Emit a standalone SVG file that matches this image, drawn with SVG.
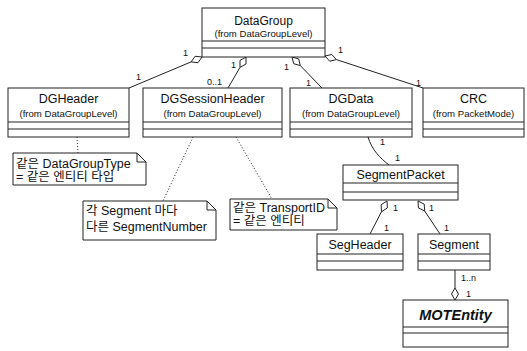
<svg xmlns="http://www.w3.org/2000/svg" width="527" height="351" viewBox="0 0 527 351">
<style>
text{font-family:"Liberation Sans","Noto Sans CJK KR",sans-serif;fill:#111}
.box{fill:#fff;stroke:#222;stroke-width:1}
.sep{stroke:#222;stroke-width:1}
.nm{font-size:12.5px;text-anchor:middle}
.fr{font-size:9.6px;text-anchor:middle}
.nt{font-size:12.5px}
.lb{font-size:9px}
.ln{fill:none;stroke:#222;stroke-width:1}
.dot{fill:none;stroke:#222;stroke-width:1;stroke-dasharray:1,2}
.dia{fill:#fff;stroke:#222;stroke-width:1}
.note{fill:#fff;stroke:#222;stroke-width:1}
</style>
<rect width="527" height="351" fill="#fff"/>

<g id="connectors">
  <polyline class="ln" points="129,88 191.1,61.9"/>
  <polygon class="dia" points="202,57 195.1,56.3 191.1,61.9 198,62.7"/>
  <polyline class="ln" points="228,88 240,67.4"/>
  <polygon class="dia" points="246,57 240,60.4 240,67.4 246,64"/>
  <polyline class="ln" points="322,88 300.3,65.6"/>
  <polygon class="dia" points="292,57 293.7,63.7 300.3,65.6 298.7,58.9"/>
  <polyline class="ln" points="423,88 336.4,59.6"/>
  <polygon class="dia" points="325,56 329.7,61.2 336.4,59.6 331.8,54.5"/>
  <path class="ln" d="M368,137 C372,150 380,158 389,165"/>
  <polyline class="ln" points="370,234 381.5,211.7"/>
  <polygon class="dia" points="387,201 381.1,204.7 381.5,211.7 387.4,207.9"/>
  <polyline class="ln" points="440,234 424.7,211"/>
  <polygon class="dia" points="418,201 418.4,207.9 424.7,211 424.2,204.1"/>
  <polyline class="ln" points="455,270 455,288"/>
  <polygon class="dia" points="455,300 451.5,294 455,288 458.5,294"/>
  <polyline class="dot" points="77,137 78,153"/>
  <polyline class="dot" points="193,137 163,201"/>
  <polyline class="dot" points="236,137 272,199"/>
  <text class="lb" x="183" y="56">1</text>
  <text class="lb" x="136" y="80">1</text>
  <text class="lb" x="231" y="68">1</text>
  <text class="lb" x="207" y="85">0..1</text>
  <text class="lb" x="284" y="70">1</text>
  <text class="lb" x="306" y="86">1</text>
  <text class="lb" x="338" y="53">1</text>
  <text class="lb" x="416" y="86">1</text>
  <text class="lb" x="380" y="145">1</text>
  <text class="lb" x="395" y="161">1</text>
  <text class="lb" x="393" y="211">1</text>
  <text class="lb" x="384" y="231">1</text>
  <text class="lb" x="429" y="211">1</text>
  <text class="lb" x="444" y="231">1</text>
  <text class="lb" x="461" y="281">1..n</text>
  <text class="lb" x="466" y="297">1</text>
</g>

<g id="DataGroup">
  <rect class="box" x="202" y="8" width="123" height="49"/>
  <line class="sep" x1="202" y1="41" x2="325" y2="41"/>
  <line class="sep" x1="202" y1="48" x2="325" y2="48"/>
  <text class="nm" x="263.5" y="25" style="font-size:12px">DataGroup</text>
  <text class="fr" x="263.5" y="37">(from DataGroupLevel)</text>
</g>

<g id="DGHeader">
  <rect class="box" x="8" y="88" width="121" height="49"/>
  <line class="sep" x1="8" y1="122" x2="129" y2="122"/>
  <line class="sep" x1="8" y1="129" x2="129" y2="129"/>
  <text class="nm" x="68.5" y="103">DGHeader</text>
  <text class="fr" x="68.5" y="117">(from DataGroupLevel)</text>
</g>

<g id="DGSessionHeader">
  <rect class="box" x="143" y="88" width="139" height="49"/>
  <line class="sep" x1="143" y1="122" x2="282" y2="122"/>
  <line class="sep" x1="143" y1="129" x2="282" y2="129"/>
  <text class="nm" x="212.5" y="103">DGSessionHeader</text>
  <text class="fr" x="212.5" y="117">(from DataGroupLevel)</text>
</g>

<g id="DGData">
  <rect class="box" x="290" y="88" width="122" height="49"/>
  <line class="sep" x1="290" y1="122" x2="412" y2="122"/>
  <line class="sep" x1="290" y1="129" x2="412" y2="129"/>
  <text class="nm" x="351" y="103">DGData</text>
  <text class="fr" x="351" y="117">(from DataGroupLevel)</text>
</g>

<g id="CRC">
  <rect class="box" x="423" y="88" width="101" height="49"/>
  <line class="sep" x1="423" y1="122" x2="524" y2="122"/>
  <line class="sep" x1="423" y1="129" x2="524" y2="129"/>
  <text class="nm" x="473.5" y="103">CRC</text>
  <text class="fr" x="473.5" y="117">(from PacketMode)</text>
</g>

<g id="SegmentPacket">
  <rect class="box" x="343" y="165" width="115" height="35"/>
  <line class="sep" x1="343" y1="183" x2="458" y2="183"/>
  <line class="sep" x1="343" y1="192" x2="458" y2="192"/>
  <text class="nm" x="400.5" y="179">SegmentPacket</text>
</g>

<g id="SegHeader">
  <rect class="box" x="317" y="234" width="86" height="36"/>
  <line class="sep" x1="317" y1="254" x2="403" y2="254"/>
  <line class="sep" x1="317" y1="261" x2="403" y2="261"/>
  <text class="nm" x="360" y="249">SegHeader</text>
</g>

<g id="Segment">
  <rect class="box" x="418" y="234" width="72" height="36"/>
  <line class="sep" x1="418" y1="254" x2="490" y2="254"/>
  <line class="sep" x1="418" y1="261" x2="490" y2="261"/>
  <text class="nm" x="454" y="249">Segment</text>
</g>

<g id="MOTEntity">
  <rect class="box" x="403" y="300" width="105" height="47"/>
  <line class="sep" x1="403" y1="327" x2="508" y2="327"/>
  <line class="sep" x1="403" y1="333" x2="508" y2="333"/>
  <text class="nm" x="455.5" y="320" style="font-size:14.5px;font-weight:bold;font-style:italic">MOTEntity</text>
</g>

<g id="note1">
  <path class="note" d="M13,153 H137 L146,162 V185 H13 Z M137,153 V162 H146"/>
  <text class="nt" x="16" y="168">같은 DataGroupType</text>
  <text class="nt" x="16" y="181">= 같은 엔티티 타입</text>
</g>

<g id="note2">
  <path class="note" d="M83,201 H207 L216,210 V240 H83 Z M207,201 V210 H216"/>
  <text class="nt" x="86" y="215">각 Segment 마다</text>
  <text class="nt" x="86" y="231">다른 SegmentNumber</text>
</g>

<g id="note3">
  <path class="note" d="M230,199 H328 L337,208 V230 H230 Z M328,199 V208 H337"/>
  <text class="nt" x="233" y="212">같은 TransportID</text>
  <text class="nt" x="233" y="225">= 같은 엔티티</text>
</g>
</svg>
